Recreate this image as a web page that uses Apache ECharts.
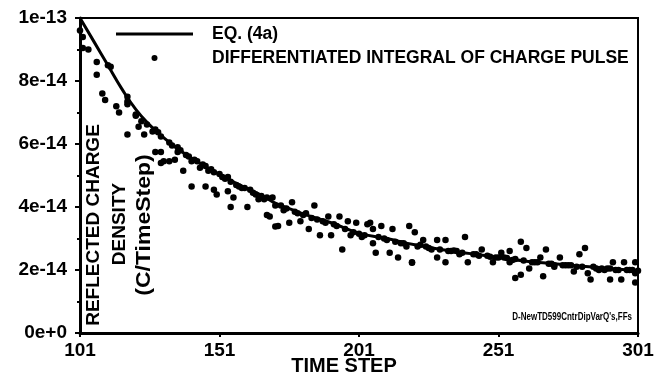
<!DOCTYPE html>
<html>
<head>
<meta charset="utf-8">
<script src="https://cdn.jsdelivr.net/npm/echarts@6/dist/echarts.min.js"></script>
<style>
  html, body { margin: 0; padding: 0; background: #fff; }
  #chart { width: 670px; height: 377px; }
</style>
</head>
<body>
<div id="chart"></div>
<script>
// values are in units of 1e-14 C/TimeStep
const lineSteps = [101, 106, 111, 116, 121, 126, 131, 136, 141, 146, 151, 156, 161, 166, 171, 176, 181, 191, 201, 211, 221, 231, 241, 251, 261, 271, 281, 291, 301];
const lineQ = [10.0, 9.25, 8.5, 7.75, 7.1, 6.6, 6.2, 5.85, 5.55, 5.28, 5.03, 4.8, 4.58, 4.38, 4.12, 3.95, 3.78, 3.5, 3.17, 3.0, 2.8, 2.64, 2.52, 2.4, 2.28, 2.2, 2.12, 2.05, 1.98];

const dotSteps = [
  101, 102, 102, 104, 107, 107, 109, 110, 111, 112, 114, 115, 118, 118, 118, 118, 121, 121, 122, 123, 124, 125, 127, 128, 128, 129, 130, 130,
  130, 131, 133, 133, 135, 136, 136, 138, 139, 141, 141, 143, 144, 146, 146, 147, 149, 149, 150, 152, 154, 154, 155, 155, 156, 157, 159, 160, 161, 162, 163, 165, 166, 168, 168,
  170, 169, 171, 171, 172, 174, 175, 176, 177, 178, 180, 181, 182, 183, 184, 185, 187, 188, 190, 191, 192, 194, 195, 196, 197, 198, 199, 200, 202, 204,
  203, 205, 206, 206, 207, 208, 209, 211, 212, 213, 214, 215, 217, 218, 219, 220, 220, 221, 222, 224, 225, 227, 229, 229, 230, 232, 232, 234, 236, 237, 239,
  238, 240, 242, 244, 245, 247, 249, 250, 252, 253, 255, 255, 257, 257, 259, 259, 260, 261, 262, 264, 266, 267, 268, 269, 271,
  271, 273, 275, 277, 278, 279, 280, 282, 283, 284, 285, 287, 288, 289, 291, 291, 292, 294, 295, 296, 297, 299, 300, 300, 300,
  134, 137, 140, 142, 145, 148, 151, 153, 158, 164, 167, 173, 179, 186, 189, 193, 201, 210, 216, 223, 226, 233, 235,
  243, 248, 251, 254, 256, 263, 265, 270, 274, 276, 281, 286, 290, 293, 298, 301
];
const dotQ = [
  9.6, 9.4, 9.05, 9.0, 8.6, 8.2, 7.6, 7.4, 8.5, 8.45, 7.2, 7.0, 7.5, 7.35, 7.26, 6.3, 6.9, 6.94, 6.55, 6.72, 6.3, 6.62, 6.4, 5.75, 6.46, 6.37, 5.4, 6.24,
  5.75, 5.45, 5.45, 6.05, 5.5, 5.75, 5.9, 5.15, 5.65, 5.45, 4.65, 5.45, 5.25, 4.65, 5.3, 5.15, 4.55, 5.1, 4.4, 4.95, 4.95, 4.5, 4.0, 4.8, 4.3, 4.7, 4.6, 4.6, 4.0, 4.55, 4.45, 4.25, 4.35, 4.3, 3.75,
  4.3, 3.7, 4.05, 3.38, 3.4, 3.9, 3.95, 3.5, 4.15, 3.85, 3.55, 3.75, 3.8, 3.3, 3.65, 4.05, 3.1, 3.55, 3.7, 3.1, 3.45, 3.7, 2.65, 3.3, 3.55, 3.1, 3.2, 3.5, 3.05, 3.45,
  3.1, 3.5, 2.85, 3.3, 2.55, 3.05, 3.4, 2.95, 2.55, 3.3, 2.9, 2.4, 2.85, 2.75, 3.4, 2.25, 2.23, 3.2, 2.75, 2.95, 2.75, 2.65, 2.95, 2.4, 2.65, 2.95, 2.25, 2.6, 2.6, 2.5, 3.05,
  2.55, 2.25, 2.5, 2.45, 2.65, 2.45, 2.25, 2.4, 2.55, 2.4, 2.6, 2.25, 2.35, 1.75, 2.9, 1.85, 2.3, 2.7, 2.05, 2.25, 2.4, 1.8, 2.65, 2.2, 2.1,
  2.15, 2.4, 2.15, 2.15, 1.95, 2.1, 2.5, 2.7, 1.9, 1.7, 2.1, 2.0, 2.05, 2.0, 1.7, 2.05, 2.25, 2.0, 1.7, 2.25, 2.0, 2.0, 2.25, 1.9, 1.6,
  5.95, 5.8, 5.6, 5.5, 5.35, 5.2, 5.05, 4.9, 4.65, 4.4, 4.25, 4.05, 3.8, 3.6, 3.5, 3.4, 3.15, 3.0, 2.85, 2.8, 2.7, 2.6, 2.62,
  2.5, 2.42, 2.4, 2.38, 2.32, 2.25, 2.25, 2.2, 2.15, 2.15, 2.1, 2.05, 2.05, 2.0, 2.0, 1.98
];

const yTickText = { 0: '0e+0', 2: '2e-14', 4: '4e-14', 6: '6e-14', 8: '8e-14', 10: '1e-13' };

const boldFont = 'Liberation Sans, Arial, sans-serif';

const chart = echarts.init(document.getElementById('chart'), null, { renderer: 'canvas' });

const option = {
  backgroundColor: '#fff',
  animation: false,
  grid: {
    left: 80, right: 32, top: 18, bottom: 44,
    show: true, borderColor: '#000', borderWidth: 2
  },
  legend: {
    orient: 'vertical',
    left: 111, top: 20,
    itemWidth: 77, itemHeight: 6, itemGap: 6,
    textStyle: { fontFamily: boldFont, fontWeight: 'bold', fontSize: 17.5, color: '#000', padding: [0, 0, 0, 14] },
    data: [
      { name: 'EQ. (4a)', icon: 'path://M0,0 L77,0 L77,3 L0,3 Z', itemStyle: { color: '#000' } },
      { name: 'DIFFERENTIATED INTEGRAL OF CHARGE PULSE' }
    ]
  },
  xAxis: {
    type: 'value', min: 101, max: 301, interval: 50,
    axisLine: { lineStyle: { color: '#000', width: 3 } },
    axisTick: { show: true, length: 4, lineStyle: { color: '#000', width: 2 } },
    splitLine: { show: false },
    axisLabel: { color: '#000', fontFamily: boldFont, fontWeight: 'bold', fontSize: 19, margin: 8 }
  },
  yAxis: {
    type: 'value', min: 0, max: 10, interval: 2,
    axisLine: { show: true, lineStyle: { color: '#000', width: 3 } },
    axisTick: { show: true, length: 5, lineStyle: { color: '#000', width: 2 } },
    minorTick: { show: true, splitNumber: 2, length: 3, lineStyle: { color: '#000', width: 2 } },
    splitLine: { show: false },
    axisLabel: {
      color: '#000', fontFamily: boldFont, fontWeight: 'bold', fontSize: 19, margin: 13,
      formatter: v => yTickText[v]
    }
  },
  series: [
    {
      name: 'EQ. (4a)', type: 'line', symbol: 'none', smooth: true,
      color: '#000',
      lineStyle: { color: '#000', width: 3 },
      data: lineSteps.map((t, i) => [t, lineQ[i]]), z: 3
    },
    {
      name: 'DIFFERENTIATED INTEGRAL OF CHARGE PULSE', type: 'scatter', symbol: 'circle', symbolSize: 6.5,
      itemStyle: { color: '#000', opacity: 1 },
      data: dotSteps.map((t, i) => [t, dotQ[i]]), z: 4
    }
  ],
  graphic: [
    { type: 'text', x: 94, y: 225, rotation: Math.PI / 2,
      style: { text: 'REFLECTED CHARGE', font: 'bold 19px ' + boldFont, fill: '#000', textAlign: 'center', textVerticalAlign: 'middle' } },
    { type: 'text', x: 120, y: 224, rotation: Math.PI / 2,
      style: { text: 'DENSITY', font: 'bold 19px ' + boldFont, fill: '#000', textAlign: 'center', textVerticalAlign: 'middle' } },
    { type: 'text', x: 144, y: 225, rotation: Math.PI / 2, scaleX: 1.15,
      style: { text: '(C/TimeStep)', font: 'bold 20px ' + boldFont, fill: '#000', textAlign: 'center', textVerticalAlign: 'middle' } },
    { type: 'text', x: 344, y: 366,
      style: { text: 'TIME STEP', font: 'bold 20px ' + boldFont, fill: '#000', textAlign: 'center', textVerticalAlign: 'middle' } },
    { type: 'text', x: 632, y: 317, scaleX: 0.8,
      style: { text: "D-NewTD599CntrDipVarQ's,FFs", font: 'bold 10px ' + boldFont, fill: '#000', textAlign: 'right', textVerticalAlign: 'middle' } }
  ]
};

chart.setOption(option);
</script>
</body>
</html>
